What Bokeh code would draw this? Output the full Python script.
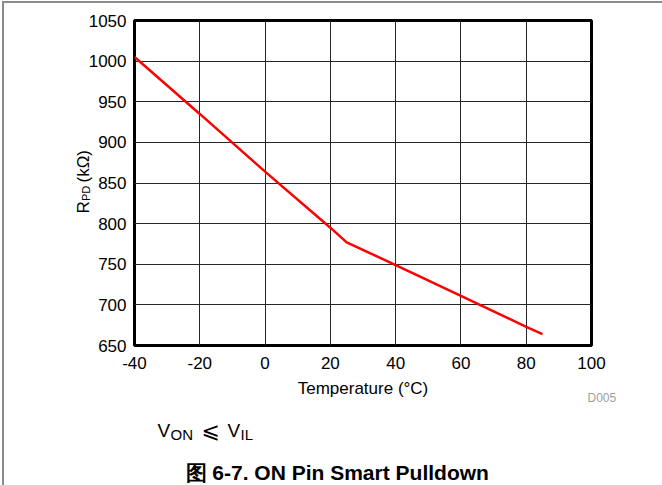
import math
from bokeh.plotting import figure
from bokeh.models import Range1d, FixedTicker, Label
from bokeh.layouts import row, column
from bokeh.embed import file_html
from bokeh.resources import INLINE

# data
temperature = [-40, -20, 0, 20, 25, 40, 60, 80, 85]
rpd_kohm = [1005, 935, 864, 795, 777, 749, 711, 673, 664]
x_ticks = [-40, -20, 0, 20, 40, 60, 80, 100]
y_ticks = [650, 700, 750, 800, 850, 900, 950, 1000, 1050]
x_title = "Temperature (°C)"
caption = "图 6-7. ON Pin Smart Pulldown"
fig_id = "D005"

FONT = "Liberation Sans"
BORDER = "#8c8c8c"


def blank(width, height, x0, x1, y0, y1, top=0, bottom=0, fill="white"):
    """Helper figure; data units = page pixels (y downward)."""
    f = figure(width=width, height=height, x_range=Range1d(x0, x1), y_range=Range1d(y1, y0),
               output_backend="svg", toolbar_location=None,
               min_border=0, min_border_left=0, min_border_right=0,
               min_border_top=top, min_border_bottom=bottom)
    f.title.visible = False
    f.axis.visible = False
    f.grid.visible = False
    f.outline_line_color = None
    f.background_fill_color = fill
    f.border_fill_color = fill
    return f


def lab(f, text, x, y, size, angle=0.0, style="normal", color="black", align="left", font=FONT):
    f.add_layout(Label(x=x, y=y, text=text, angle=angle, text_font=font,
                       text_font_size=size, text_font_style=style, text_color=color,
                       text_align=align, text_baseline="alphabetic"))


# ---- main chart (page x 74..662, y 3..385; frame x 134..591, y 20..345)
p = figure(width=588, height=382, x_range=Range1d(-40, 100), y_range=Range1d(650, 1050),
           output_backend="svg", toolbar_location=None,
           min_border_left=60, min_border_right=71, min_border_top=17, min_border_bottom=40)
p.styles = {"margin-left": "-60px"}
p.title.visible = False
p.background_fill_color = "white"
p.border_fill_color = None
p.outline_line_color = "black"
p.outline_line_width = 3

for ax, ticks in ((p.xaxis, x_ticks), (p.yaxis, y_ticks)):
    ax.ticker = FixedTicker(ticks=ticks)
    ax.axis_line_color = None
    ax.major_tick_line_color = None
    ax.minor_tick_line_color = None
    ax.major_tick_in = 0
    ax.major_tick_out = 0
    ax.major_label_text_font = FONT
    ax.major_label_text_font_size = "17px"
    ax.major_label_text_color = "black"
p.xaxis.major_label_overrides = {t: str(t) for t in x_ticks}
p.xaxis.major_label_standoff = 11
p.yaxis.major_label_standoff = 8

p.xgrid.ticker = FixedTicker(ticks=x_ticks)
p.ygrid.ticker = FixedTicker(ticks=y_ticks)
for g in (p.xgrid, p.ygrid):
    g.grid_line_color = "#262626"
    g.grid_line_width = 1
    g.grid_line_alpha = 1.0

p.line(temperature, rpd_kohm, line_color="#ff0000", line_width=2.5)

# ---- left strip (page x 4..134, frame y 20..345): y-axis title (under p's transparent border)
left = blank(130, 382, 4, 134, 20, 345, top=17, bottom=40)
lab(left, "R", 83, 213, "17px", angle=math.pi / 2)
lab(left, "PD", 85.5, 200.5, "11px", angle=math.pi / 2)
lab(left, "(kΩ)", 83, 182, "17px", angle=math.pi / 2)

# ---- bottom strip (page x 4..662, y 365..485), transparent, overlaps p's lower border
bot = blank(658, 120, 4, 662, 365, 485, fill=None)
bot.styles = {"margin-top": "-20px"}
lab(bot, x_title, 362.5, 388, "17px", align="center")
lab(bot, fig_id, 587, 397, "12px", color="#a0a0a0")
lab(bot, "V", 157, 430, "19px")
lab(bot, "ON", 170, 433.5, "15px")
lab(bot, "⩽", 201, 430, "22px", font="DejaVu Sans")
lab(bot, "V", 227, 430, "19px")
lab(bot, "IL", 240, 433.5, "15px")
lab(bot, caption, 185, 472, "21px", style="bold")

layout = column(row(left, p), bot,
                styles={"border-left": "2px solid " + BORDER, "border-top": "2px solid " + BORDER,
                        "margin-left": "2px", "margin-top": "1px"})
open("out.html", "w").write(file_html(layout, INLINE))
